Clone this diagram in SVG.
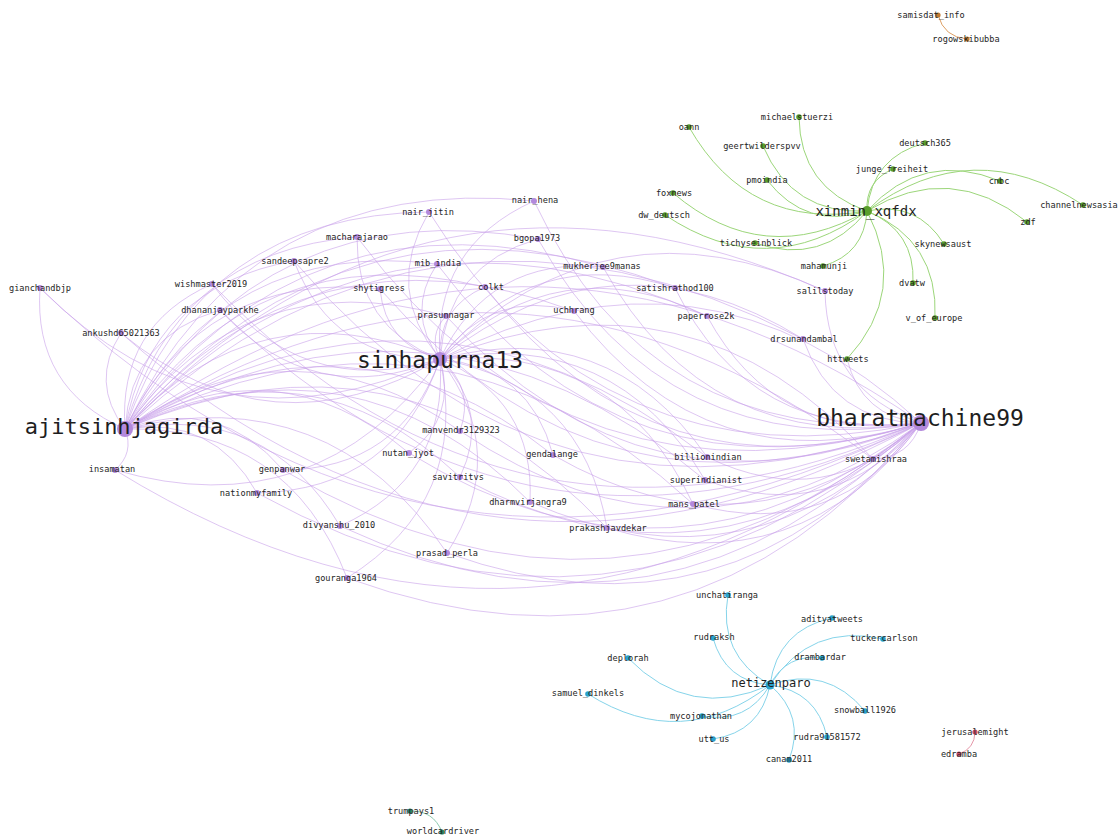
<svg xmlns="http://www.w3.org/2000/svg" width="1119" height="837" viewBox="0 0 1119 837">
<style>
  .e { fill: none; stroke-width: 0.8; }
  .ep { stroke: #c7a0ea; stroke-opacity: 0.75; }
  .eg { stroke: #9cd67a; stroke-width: 1; }
  .eb { stroke: #86d4ea; stroke-width: 1; }
  .er { stroke: #e596a8; stroke-width: 1; }
  .eo { stroke: #dea064; stroke-width: 1; }
  .et { stroke: #8ccab0; stroke-width: 1; }
  .np { fill: #b389dc; }
  .ng { fill: #5a9e2c; }
  .nb { fill: #2aa2cc; }
  .nr { fill: #c9506c; }
  .no { fill: #c27a32; }
  .nt { fill: #2a8a6a; }
  text { font-family: "DejaVu Sans Mono", "Liberation Mono", monospace; fill: #1e1e1e; text-anchor: middle; dominant-baseline: central; }
  .s { font-size: 8.6px; }
  .m { font-size: 14px; }
  .m2 { font-size: 12px; }
  .b { font-size: 23px; }
</style>
<rect width="1119" height="837" fill="#ffffff"/>

<g id="edges">
  <!-- ajitsinhjagirda fan -->
  <g class="e ep">
    <path d="M125,429 Q33.2,388.3 40,288"/>
    <path d="M125,429 Q89.4,382.4 121,333"/>
    <path d="M125,429 Q117.8,326.1 212,284"/>
    <path d="M125,429 Q130.9,336.3 220,310"/>
    <path d="M125,429 Q150.7,285.9 294,261"/>
    <path d="M125,429 Q173.8,251.8 357,237"/>
    <path d="M125,429 Q201.1,214.1 429,212"/>
    <path d="M125,429 Q249.7,171.9 534,201"/>
    <path d="M125,429 Q265,189.5 538,239"/>
    <path d="M125,429 Q223.3,237.3 437,264"/>
    <path d="M125,429 Q307.3,180.7 603,267"/>
    <path d="M125,429 Q203.5,269.8 380,289"/>
    <path d="M125,429 Q255.3,232 485,287"/>
    <path d="M125,429 Q350.7,166 675,288"/>
    <path d="M125,429 Q246,260.2 446,316"/>
    <path d="M125,429 Q308.2,212.9 574,311"/>
    <path d="M125,429 Q376.5,168.8 707,316"/>
    <path d="M125,429 Q426.7,115 825,291"/>
    <path d="M125,429 Q432.5,146.7 803,339"/>
    <path d="M125,429 Q509.5,182.2 873,459"/>
    <path d="M125,429 Q425.8,239.3 707,457"/>
    <path d="M125,429 Q432.9,251.5 705,480"/>
    <path d="M125,429 Q435.3,267.7 693,504"/>
    <path d="M125,429 Q400.7,309.8 607,528"/>
    <path d="M125,429 Q353.1,323.8 530,502"/>
    <path d="M125,429 Q348.1,292.2 553,455"/>
    <path d="M125,429 Q309.3,335.8 460,477"/>
    <path d="M125,429 Q293.2,312.8 460,431"/>
    <path d="M125,429 Q275.4,341.6 409,453"/>
    <path d="M125,429 Q329.4,378.3 447,553"/>
    <path d="M125,429 Q134.4,453 115,470"/>
    <path d="M125,429 Q218.4,394.2 283,470"/>
    <path d="M125,429 Q213.4,414.8 257,493"/>
    <path d="M125,429 Q266.5,402.3 340,526"/>
    <path d="M125,429 Q288.2,425.8 347,578"/>
  </g>
  <!-- sinhapurna13 fan -->
  <g class="e ep">
    <path d="M440,359 Q215.2,463.5 40,288"/>
    <path d="M440,359 Q271.4,457.7 121,333"/>
    <path d="M440,359 Q299.8,401.3 212,284"/>
    <path d="M440,359 Q312.9,411.5 220,310"/>
    <path d="M440,359 Q332.7,361.1 294,261"/>
    <path d="M440,359 Q355.8,327.1 357,237"/>
    <path d="M440,359 Q383.1,289.4 429,212"/>
    <path d="M440,359 Q431.7,247.1 534,201"/>
    <path d="M440,359 Q447,264.7 538,239"/>
    <path d="M440,359 Q405.3,312.6 437,264"/>
    <path d="M440,359 Q489.3,256 603,267"/>
    <path d="M440,359 Q385.5,345 380,289"/>
    <path d="M440,359 Q437.3,307.3 485,287"/>
    <path d="M440,359 Q532.7,241.3 675,288"/>
    <path d="M440,359 Q428,335.4 446,316"/>
    <path d="M440,359 Q490.2,288.1 574,311"/>
    <path d="M440,359 Q558.5,244 707,316"/>
    <path d="M440,359 Q608.7,190.3 825,291"/>
    <path d="M440,359 Q614.5,222 803,339"/>
    <path d="M440,359 Q691.5,257.5 873,459"/>
    <path d="M440,359 Q607.8,314.6 707,457"/>
    <path d="M440,359 Q614.9,326.8 705,480"/>
    <path d="M440,359 Q617.3,343 693,504"/>
    <path d="M440,359 Q582.7,385.1 607,528"/>
    <path d="M440,359 Q535.1,399 530,502"/>
    <path d="M440,359 Q530.1,367.5 553,455"/>
    <path d="M440,359 Q491.3,411 460,477"/>
    <path d="M440,359 Q475.2,388 460,431"/>
    <path d="M440,359 Q457.4,416.9 409,453"/>
    <path d="M440,359 Q511.4,453.6 447,553"/>
    <path d="M440,359 Q316.4,528.3 115,470"/>
    <path d="M440,359 Q400.4,469.5 283,470"/>
    <path d="M440,359 Q395.4,490.1 257,493"/>
    <path d="M440,359 Q448.5,477.5 340,526"/>
    <path d="M440,359 Q470.2,501.1 347,578"/>
  </g>
  <!-- bharatmachine99 fan -->
  <g class="e ep">
    <path d="M921,423 Q433.3,663.9 40,288"/>
    <path d="M921,423 Q489.5,658 121,333"/>
    <path d="M921,423 Q517.9,601.7 212,284"/>
    <path d="M921,423 Q531,611.9 220,310"/>
    <path d="M921,423 Q550.8,561.5 294,261"/>
    <path d="M921,423 Q573.9,527.4 357,237"/>
    <path d="M921,423 Q601.2,489.7 429,212"/>
    <path d="M921,423 Q649.8,447.5 534,201"/>
    <path d="M921,423 Q665.1,465.1 538,239"/>
    <path d="M921,423 Q623.4,512.9 437,264"/>
    <path d="M921,423 Q707.4,456.3 603,267"/>
    <path d="M921,423 Q603.6,545.4 380,289"/>
    <path d="M921,423 Q655.4,507.6 485,287"/>
    <path d="M921,423 Q750.8,441.6 675,288"/>
    <path d="M921,423 Q646,535.8 446,316"/>
    <path d="M921,423 Q708.3,488.5 574,311"/>
    <path d="M921,423 Q776.6,444.4 707,316"/>
    <path d="M921,423 Q826.8,390.6 825,291"/>
    <path d="M921,423 Q832.6,422.3 803,339"/>
    <path d="M921,423 Q909.6,457.8 873,459"/>
    <path d="M921,423 Q825.9,514.9 707,457"/>
    <path d="M921,423 Q833,527.1 705,480"/>
    <path d="M921,423 Q835.4,543.3 693,504"/>
    <path d="M921,423 Q800.8,585.4 607,528"/>
    <path d="M921,423 Q753.2,599.4 530,502"/>
    <path d="M921,423 Q748.2,567.8 553,455"/>
    <path d="M921,423 Q709.4,611.4 460,477"/>
    <path d="M921,423 Q693.3,588.4 460,431"/>
    <path d="M921,423 Q675.5,617.2 409,453"/>
    <path d="M921,423 Q729.5,653.9 447,553"/>
    <path d="M921,423 Q534.5,728.6 115,470"/>
    <path d="M921,423 Q618.5,669.8 283,470"/>
    <path d="M921,423 Q613.5,690.4 257,493"/>
    <path d="M921,423 Q666.6,677.9 340,526"/>
    <path d="M921,423 Q688.3,701.4 347,578"/>
    <path d="M921,423 Q861.6,416.9 847,359"/>
  </g>
  <!-- links between the three purple hubs -->
  <g class="e ep">
    <path d="M125,429 Q258,283.8 440,359"/>
    <path d="M440,359 Q702.9,222.7 921,423"/>
    <path d="M125,429 Q520.9,147.4 921,423"/>
  </g>
  <!-- xinmin_xqfdx fan -->
  <g class="e eg">
    <path d="M867,211 Q748.6,231.3 689,127"/>
    <path d="M867,211 Q800.1,187.8 799,117"/>
    <path d="M867,211 Q792.3,214.9 763,146"/>
    <path d="M867,211 Q872.2,156.7 925,143"/>
    <path d="M867,211 Q865.3,180.9 893,169"/>
    <path d="M867,211 Q806.2,230.5 767,180"/>
    <path d="M867,211 Q923,149.5 1000,181"/>
    <path d="M867,211 Q972.9,132.4 1083,205"/>
    <path d="M867,211 Q763.7,269.9 673,193"/>
    <path d="M867,211 Q767.4,283.7 665,215"/>
    <path d="M867,211 Q950.9,160.5 1027,222"/>
    <path d="M867,211 Q822.2,266.2 755,243"/>
    <path d="M867,211 Q917,200.6 944,244"/>
    <path d="M867,211 Q864.3,253.9 823,266"/>
    <path d="M867,211 Q915.2,230.9 913,283"/>
    <path d="M867,211 Q938.5,240.7 935,318"/>
    <path d="M867,211 Q908.8,292 847,359"/>
  </g>
  <!-- netizenparo fan -->
  <g class="e eb">
    <path d="M770,685 Q717.5,654.7 728,595"/>
    <path d="M770,685 Q777.6,629.8 832,618"/>
    <path d="M770,685 Q810.4,622.5 883,639"/>
    <path d="M770,685 Q725.1,681.5 713,638"/>
    <path d="M770,685 Q786.6,653.3 822,658"/>
    <path d="M770,685 Q689.6,721.2 628,658"/>
    <path d="M770,685 Q682.2,753.2 588,694"/>
    <path d="M770,685 Q826.6,664.8 865,711"/>
    <path d="M770,685 Q746.9,724.3 702,716"/>
    <path d="M770,685 Q816.7,691.1 827,737"/>
    <path d="M770,685 Q760.4,732 713,739"/>
    <path d="M770,685 Q805.8,715.9 789,760"/>
  </g>
  <!-- small pairs -->
  <path class="e eo" d="M967,39 Q944.1,37.2 938,15"/>
  <path class="e er" d="M975,732 Q974.7,748.6 959,754"/>
  <path class="e et" d="M410,811 Q433.4,810.3 442,832"/>
</g>

<!-- isolated pairs -->
<g id="n-samisdat_info"><circle class="no" cx="938" cy="15" r="2.6"/><text class="s" x="931" y="15">samisdat_info</text></g>
<g id="n-rogowskibubba"><circle class="no" cx="967" cy="39" r="2.6"/><text class="s" x="966" y="39">rogowskibubba</text></g>
<g id="n-jerusalemight"><circle class="nr" cx="975" cy="732" r="2.6"/><text class="s" x="975" y="732">jerusalemight</text></g>
<g id="n-edramba"><circle class="nr" cx="959" cy="754" r="2.6"/><text class="s" x="959" y="754">edramba</text></g>
<g id="n-trumpays1"><circle class="nt" cx="410" cy="811" r="2.6"/><text class="s" x="411" y="811">trumpays1</text></g>
<g id="n-worldcardriver"><circle class="nt" cx="442" cy="832" r="2.6"/><text class="s" x="443" y="831">worldcardriver</text></g>

<!-- green cluster -->
<g id="n-oann"><circle class="ng" cx="689" cy="127" r="2.8"/><text class="s" x="689" y="127">oann</text></g>
<g id="n-michaelstuerzi"><circle class="ng" cx="799" cy="117" r="2.8"/><text class="s" x="797" y="117">michaelstuerzi</text></g>
<g id="n-geertwilderspvv"><circle class="ng" cx="763" cy="146" r="2.8"/><text class="s" x="762" y="146">geertwilderspvv</text></g>
<g id="n-deutsch365"><circle class="ng" cx="925" cy="143" r="2.8"/><text class="s" x="925" y="143">deutsch365</text></g>
<g id="n-junge_freiheit"><circle class="ng" cx="893" cy="169" r="2.8"/><text class="s" x="892" y="169">junge_freiheit</text></g>
<g id="n-pmoindia"><circle class="ng" cx="767" cy="180" r="2.8"/><text class="s" x="767" y="180">pmoindia</text></g>
<g id="n-cnbc"><circle class="ng" cx="1000" cy="181" r="2.8"/><text class="s" x="999" y="181">cnbc</text></g>
<g id="n-channelnewsasia"><circle class="ng" cx="1083" cy="205" r="2.8"/><text class="s" x="1079" y="205">channelnewsasia</text></g>
<g id="n-foxnews"><circle class="ng" cx="673" cy="193" r="2.8"/><text class="s" x="674" y="193">foxnews</text></g>
<g id="n-dw_deutsch"><circle class="ng" cx="665" cy="215" r="2.8"/><text class="s" x="664" y="215">dw_deutsch</text></g>
<g id="n-zdf"><circle class="ng" cx="1027" cy="222" r="2.8"/><text class="s" x="1028" y="222">zdf</text></g>
<g id="n-tichyseinblick"><circle class="ng" cx="755" cy="243" r="2.8"/><text class="s" x="756" y="243">tichyseinblick</text></g>
<g id="n-skynewsaust"><circle class="ng" cx="944" cy="244" r="2.8"/><text class="s" x="943" y="244">skynewsaust</text></g>
<g id="n-mahamunji"><circle class="ng" cx="823" cy="266" r="2.8"/><text class="s" x="824" y="266">mahamunji</text></g>
<g id="n-dvatw"><circle class="ng" cx="913" cy="283" r="2.8"/><text class="s" x="912" y="283">dvatw</text></g>
<g id="n-v_of_europe"><circle class="ng" cx="935" cy="318" r="2.8"/><text class="s" x="934" y="318">v_of_europe</text></g>
<g id="n-httweets"><circle class="ng" cx="847" cy="359" r="2.8"/><text class="s" x="848" y="359">httweets</text></g>
<g id="n-xinmin_xqfdx"><circle class="ng" cx="867" cy="211" r="5"/><text class="m" x="866" y="211">xinmin_xqfdx</text></g>

<!-- purple cluster -->
<g id="n-gianchandbjp"><circle class="np" cx="40" cy="288" r="3"/><text class="s" x="40" y="288">gianchandbjp</text></g>
<g id="n-ankushd65021363"><circle class="np" cx="121" cy="333" r="3"/><text class="s" x="121" y="333">ankushd65021363</text></g>
<g id="n-wishmaster2019"><circle class="np" cx="212" cy="284" r="3"/><text class="s" x="211" y="284">wishmaster2019</text></g>
<g id="n-dhananjayparkhe"><circle class="np" cx="220" cy="310" r="3"/><text class="s" x="220" y="310">dhananjayparkhe</text></g>
<g id="n-sandeepsapre2"><circle class="np" cx="294" cy="261" r="3"/><text class="s" x="295" y="261">sandeepsapre2</text></g>
<g id="n-macharajarao"><circle class="np" cx="357" cy="237" r="3"/><text class="s" x="357" y="237">macharajarao</text></g>
<g id="n-nair_jitin"><circle class="np" cx="429" cy="212" r="3"/><text class="s" x="428" y="212">nair_jitin</text></g>
<g id="n-nair_hena"><circle class="np" cx="534" cy="201" r="3"/><text class="s" x="535" y="200">nair_hena</text></g>
<g id="n-bgopa1973"><circle class="np" cx="538" cy="239" r="3"/><text class="s" x="537" y="238">bgopa1973</text></g>
<g id="n-mib_india"><circle class="np" cx="437" cy="264" r="3"/><text class="s" x="438" y="263">mib_india</text></g>
<g id="n-mukherjee9manas"><circle class="np" cx="603" cy="267" r="3"/><text class="s" x="602" y="266">mukherjee9manas</text></g>
<g id="n-shytigress"><circle class="np" cx="380" cy="289" r="3"/><text class="s" x="379" y="288">shytigress</text></g>
<g id="n-colkt"><circle class="np" cx="485" cy="287" r="3"/><text class="s" x="491" y="287">colkt</text></g>
<g id="n-satishrathod100"><circle class="np" cx="675" cy="288" r="3"/><text class="s" x="675" y="288">satishrathod100</text></g>
<g id="n-prasunnagar"><circle class="np" cx="446" cy="316" r="3"/><text class="s" x="446" y="315">prasunnagar</text></g>
<g id="n-uchhrang"><circle class="np" cx="574" cy="311" r="3"/><text class="s" x="574" y="310">uchhrang</text></g>
<g id="n-paperrose2k"><circle class="np" cx="707" cy="316" r="3"/><text class="s" x="706" y="316">paperrose2k</text></g>
<g id="n-salilstoday"><circle class="np" cx="825" cy="291" r="3"/><text class="s" x="825" y="291">salilstoday</text></g>
<g id="n-drsunandambal"><circle class="np" cx="803" cy="339" r="3"/><text class="s" x="804" y="339">drsunandambal</text></g>
<g id="n-swetamishraa"><circle class="np" cx="873" cy="459" r="3"/><text class="s" x="876" y="459">swetamishraa</text></g>
<g id="n-billionindian"><circle class="np" cx="707" cy="457" r="3"/><text class="s" x="708" y="457">billionindian</text></g>
<g id="n-superindianist"><circle class="np" cx="705" cy="480" r="3"/><text class="s" x="706" y="480">superindianist</text></g>
<g id="n-mans_patel"><circle class="np" cx="693" cy="504" r="3"/><text class="s" x="694" y="504">mans_patel</text></g>
<g id="n-prakashjavdekar"><circle class="np" cx="607" cy="528" r="3"/><text class="s" x="608" y="528">prakashjavdekar</text></g>
<g id="n-dharmvirjangra9"><circle class="np" cx="530" cy="502" r="3"/><text class="s" x="528" y="502">dharmvirjangra9</text></g>
<g id="n-gendalange"><circle class="np" cx="553" cy="455" r="3"/><text class="s" x="552" y="454">gendalange</text></g>
<g id="n-savitritvs"><circle class="np" cx="460" cy="477" r="3"/><text class="s" x="458" y="477">savitritvs</text></g>
<g id="n-manvendr3129323"><circle class="np" cx="460" cy="431" r="3"/><text class="s" x="461" y="430">manvendr3129323</text></g>
<g id="n-nutan_jyot"><circle class="np" cx="409" cy="453" r="3"/><text class="s" x="408" y="453">nutan_jyot</text></g>
<g id="n-prasad_perla"><circle class="np" cx="447" cy="553" r="3"/><text class="s" x="447" y="553">prasad_perla</text></g>
<g id="n-insamatan"><circle class="np" cx="115" cy="470" r="3"/><text class="s" x="112" y="469">insamatan</text></g>
<g id="n-genpanwar"><circle class="np" cx="283" cy="470" r="3"/><text class="s" x="282" y="469">genpanwar</text></g>
<g id="n-nationmyfamily"><circle class="np" cx="257" cy="493" r="3"/><text class="s" x="256" y="493">nationmyfamily</text></g>
<g id="n-divyanshu_2010"><circle class="np" cx="340" cy="526" r="3"/><text class="s" x="339" y="525">divyanshu_2010</text></g>
<g id="n-gouranga1964"><circle class="np" cx="347" cy="578" r="3"/><text class="s" x="346" y="578">gouranga1964</text></g>
<g id="n-ajitsinhjagirda"><circle class="np" cx="125" cy="429" r="8"/><text class="b" x="124" y="426" style="font-size:22px">ajitsinhjagirda</text></g>
<g id="n-sinhapurna13"><circle class="np" cx="440" cy="359" r="7"/><text class="b" x="440" y="360">sinhapurna13</text></g>
<g id="n-bharatmachine99"><circle class="np" cx="921" cy="423" r="8"/><text class="b" x="920" y="418">bharatmachine99</text></g>

<!-- blue cluster -->
<g id="n-unchatiranga"><circle class="nb" cx="728" cy="595" r="2.8"/><text class="s" x="727" y="595">unchatiranga</text></g>
<g id="n-adityatweets"><circle class="nb" cx="832" cy="618" r="2.8"/><text class="s" x="832" y="619">adityatweets</text></g>
<g id="n-tuckercarlson"><circle class="nb" cx="883" cy="639" r="2.8"/><text class="s" x="884" y="638">tuckercarlson</text></g>
<g id="n-rudraksh"><circle class="nb" cx="713" cy="638" r="2.8"/><text class="s" x="714" y="637">rudraksh</text></g>
<g id="n-drambardar"><circle class="nb" cx="822" cy="658" r="2.8"/><text class="s" x="820" y="657">drambardar</text></g>
<g id="n-deplorah"><circle class="nb" cx="628" cy="658" r="2.8"/><text class="s" x="628" y="658">deplorah</text></g>
<g id="n-samuel_dinkels"><circle class="nb" cx="588" cy="694" r="2.8"/><text class="s" x="588" y="693">samuel_dinkels</text></g>
<g id="n-snowball1926"><circle class="nb" cx="865" cy="711" r="2.8"/><text class="s" x="865" y="710">snowball1926</text></g>
<g id="n-mycojonathan"><circle class="nb" cx="702" cy="716" r="2.8"/><text class="s" x="701" y="716">mycojonathan</text></g>
<g id="n-rudra91581572"><circle class="nb" cx="827" cy="737" r="2.8"/><text class="s" x="827" y="737">rudra91581572</text></g>
<g id="n-utt_us"><circle class="nb" cx="713" cy="739" r="2.8"/><text class="s" x="714" y="739">utt_us</text></g>
<g id="n-canam2011"><circle class="nb" cx="789" cy="760" r="2.8"/><text class="s" x="789" y="759">canam2011</text></g>
<g id="n-netizenparo"><circle class="nb" cx="770" cy="685" r="4.5"/><text class="m2" x="771" y="683">netizenparo</text></g>
</svg>
